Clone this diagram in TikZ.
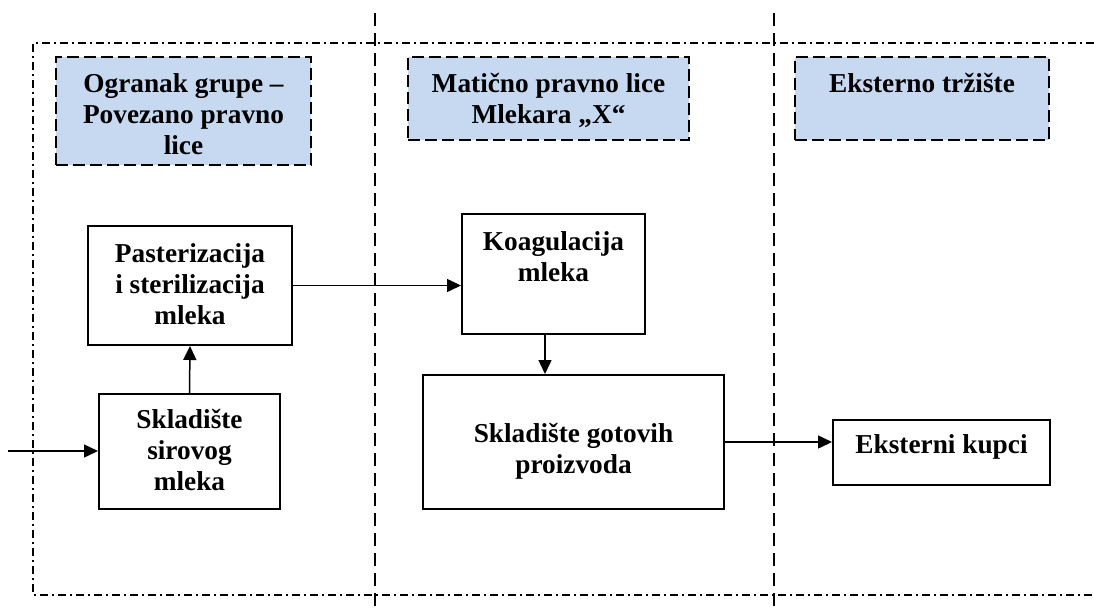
\documentclass[tikz,border=0pt]{standalone}
\usepackage{fontspec}
\setmainfont{Liberation Serif}
\usetikzlibrary{arrows.meta}
\definecolor{hdrblue}{HTML}{C6D9F1}
\begin{document}
\begin{tikzpicture}[x=1pt,y=-1pt,
  txt/.style={font=\bfseries\fontsize{27.3}{31}\selectfont, align=center, inner sep=0pt, anchor=north},
  hdrbox/.style={draw, line width=2pt, dash pattern=on 12pt off 5pt, fill=hdrblue, anchor=north west, inner sep=0pt},
  procbox/.style={draw, line width=2pt, fill=white, anchor=north west, inner sep=0pt},
  frameline/.style={line width=2pt, dash pattern=on 8pt off 4pt on 2pt off 4pt},
  laneline/.style={line width=1.9pt, dash pattern=on 13pt off 7pt},
  flow/.style={line width=1.5pt, -{Triangle[length=14pt,width=13pt]}}]
\useasboundingbox (0,0) rectangle (1094,613);

% outer dash-dot frame (open to the right)
\coordinate (fr1) at (1094,43);
\coordinate (fr2) at (33,43);
\coordinate (fr3) at (33,595);
\coordinate (fr4) at (1094,595);
\draw[frameline] (fr1) -- (fr2) -- (fr3) -- (fr4);

% lane separators
\coordinate (l1t) at (375,13);
\coordinate (l1b) at (375,613);
\coordinate (l2t) at (774,13);
\coordinate (l2b) at (774,613);
\draw[laneline] (l1t) -- (l1b);
\draw[laneline] (l2t) -- (l2b);

% lane headers
\node[hdrbox, minimum width=255pt, minimum height=108pt] (h1) at (55,56) {};
\node[txt] (h1t) at ([yshift=-17.5pt]h1.north) {Ogranak grupe –\\Povezano pravno\\lice};
\node[hdrbox, minimum width=281pt, minimum height=83pt] (h2) at (407,56) {};
\node[txt] (h2t) at ([yshift=-17.5pt]h2.north) {Matično pravno lice\\Mlekara „X“};
\node[hdrbox, minimum width=254pt, minimum height=83pt] (h3) at (794,56) {};
\node[txt] (h3t) at ([yshift=-17.5pt]h3.north) {Eksterno tržište};

% process boxes
\node[procbox, minimum width=204pt, minimum height=119pt] (past) at (87,225) {};
\node[txt] (pastt) at ([yshift=-18.5pt]past.north) {Pasterizacija\\i sterilizacija\\mleka};
\node[procbox, minimum width=181pt, minimum height=115pt] (sir) at (98,393) {};
\node[txt] (sirt) at ([yshift=-16.5pt]sir.north) {Skladište\\sirovog\\mleka};
\node[procbox, minimum width=183pt, minimum height=120pt] (koag) at (461,213) {};
\node[txt] (koagt) at ([yshift=-18.5pt]koag.north) {Koagulacija\\mleka};
\node[procbox, minimum width=301pt, minimum height=134pt] (got) at (422,374) {};
\node[txt] (gott) at ([yshift=-49.5pt]got.north) {Skladište gotovih\\proizvoda};
\node[procbox, minimum width=217pt, minimum height=65pt] (kup) at (832,419) {};
\node[txt] (kupt) at ([yshift=-15.5pt]kup.north) {Eksterni kupci};

% flows
\coordinate (src) at (8,451);
\draw[flow] (src) -- (src -| sir.west);
\draw[flow] (sir.north) -- (past.south);
\draw[flow] (past.east) -- (past.east -| koag.west);
\coordinate (kd) at ([xshift=-8.5pt]koag.south);
\draw[flow] (kd) -- (kd |- got.north);
\draw[flow] (got.east) -- (got.east -| kup.west);
\end{tikzpicture}
\end{document}
